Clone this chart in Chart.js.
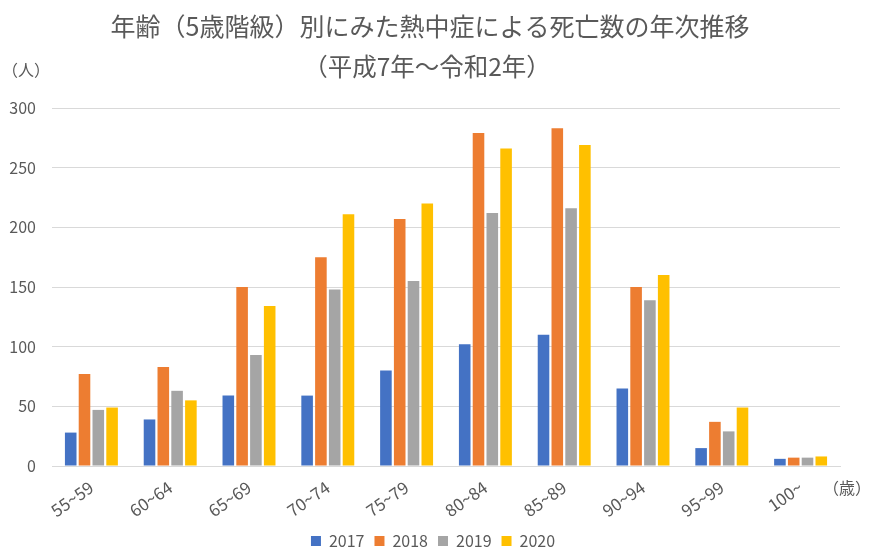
<!DOCTYPE html>
<html>
<head>
<meta charset="utf-8">
<script src="https://cdn.jsdelivr.net/npm/chart.js@4.4.1/dist/chart.umd.min.js"></script>
<style>
  html, body { margin: 0; padding: 0; background: #fff; }
  #wrap { width: 880px; height: 555px; }
</style>
</head>
<body>
<div id="wrap"><canvas id="chart" width="880" height="555"></canvas></div>
<script>
// age groups (x axis)
const ageGroups = ['55~59', '60~64', '65~69', '70~74', '75~79', '80~84', '85~89', '90~94', '95~99', '100~'];

// deaths per year
const deaths2017 = [28, 39, 59, 59, 80, 102, 110, 65, 15, 6];
const deaths2018 = [77, 83, 150, 175, 207, 279, 283, 150, 37, 7];
const deaths2019 = [47, 63, 93, 148, 155, 212, 216, 139, 29, 7];
const deaths2020 = [49, 55, 134, 211, 220, 266, 269, 160, 49, 8];

const yearLabels = ['2017', '2018', '2019', '2020'];
const yTicks = [0, 50, 100, 150, 200, 250, 300];

const titleLines = ['年齢（5歳階級）別にみた熱中症による死亡数の年次推移', '（平成7年〜令和2年）'];

const FONT = '"Noto Sans CJK JP", "Noto Sans", sans-serif';
const GRAY = '#595959';

// title and axis unit labels
const extraText = {
    id: 'extraText',
    afterLayout(chart) {
        // nudge legend a bit right, like the original
        if (chart.legend) {
            chart.legend.left += 13;
            chart.legend.right += 13;
        }
    },
    afterDraw(chart) {
        const ctx = chart.ctx;
        ctx.save();
        ctx.fillStyle = GRAY;
        ctx.textAlign = 'center';
        ctx.textBaseline = 'middle';
        ctx.font = '25px ' + FONT;
        ctx.fillText(titleLines[0], 430, 26);
        ctx.font = '24.5px ' + FONT;
        ctx.fillText(titleLines[1], 427, 67);
        ctx.font = '16px ' + FONT;
        ctx.textAlign = 'left';
        ctx.fillText('（人）', 2, 70);
        ctx.fillText('（歳）', 823, 488);
        ctx.restore();
    }
};

const ctx = document.getElementById('chart').getContext('2d');
new Chart(ctx, {
    type: 'bar',
    data: {
        labels: ageGroups,
        datasets: [
            { label: yearLabels[0], data: deaths2017, backgroundColor: '#4472C4' },
            { label: yearLabels[1], data: deaths2018, backgroundColor: '#ED7D31' },
            { label: yearLabels[2], data: deaths2019, backgroundColor: '#A5A5A5' },
            { label: yearLabels[3], data: deaths2020, backgroundColor: '#FFC000' }
        ]
    },
    options: {
        responsive: false,
        animation: false,
        layout: { padding: { top: 108, right: 40, bottom: -4, left: 0 } },
        datasets: {
            bar: { categoryPercentage: 0.7, barPercentage: 0.84 }
        },
        plugins: {
            title: { display: false },
            tooltip: { enabled: false },
            legend: {
                position: 'bottom',
                labels: {
                    color: GRAY,
                    font: { family: FONT, size: 16 },
                    boxWidth: 10,
                    boxHeight: 10,
                    padding: 10
                }
            }
        },
        scales: {
            x: {
                grid: { display: false },
                border: { display: true, color: '#d9d9d9', width: 1 },
                ticks: {
                    color: GRAY,
                    font: { family: FONT, size: 17 },
                    minRotation: 35,
                    maxRotation: 35,
                    padding: 3
                },
                afterFit(scale) { scale.height = 57; }
            },
            y: {
                min: 0,
                max: 300,
                afterBuildTicks(scale) { scale.ticks = yTicks.map(v => ({ value: v })); },
                grid: { color: '#d9d9d9', lineWidth: 1, drawTicks: false },
                border: { display: false },
                ticks: {
                    color: GRAY,
                    font: { family: FONT, size: 16 },
                    padding: 16
                },
                afterFit(scale) { scale.width = 52; }
            }
        }
    },
    plugins: [extraText]
});
</script>
</body>
</html>
